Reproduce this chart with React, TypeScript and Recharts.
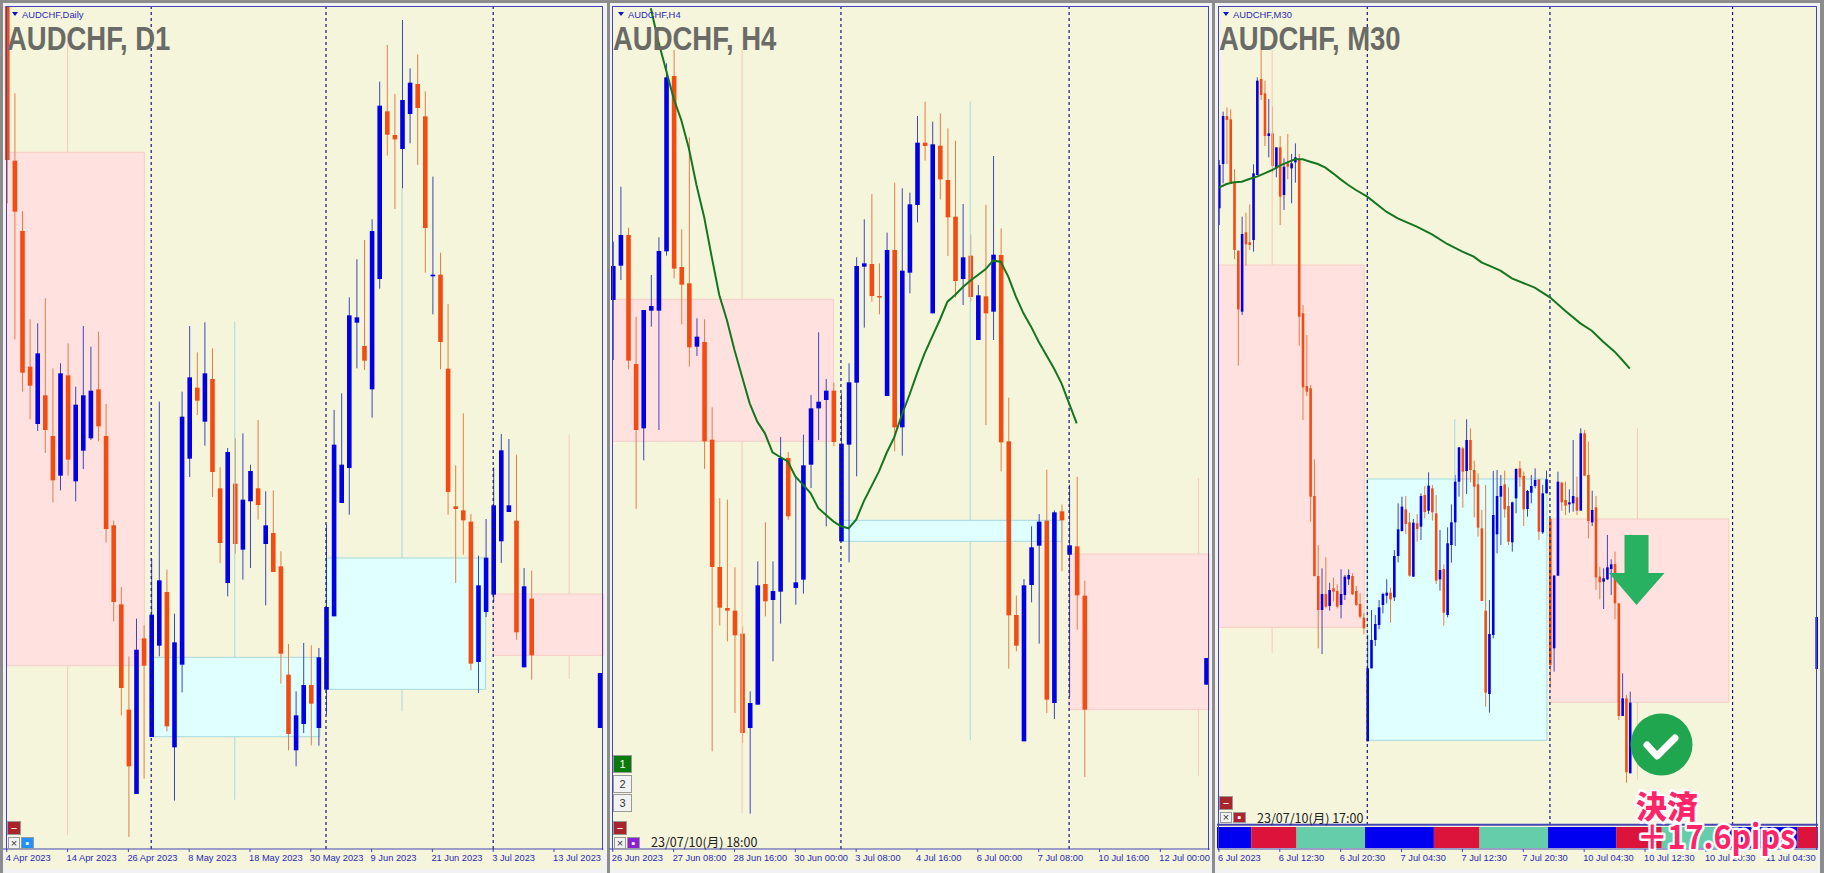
import { Bar, ComposedChart, Line, ReferenceArea, ReferenceLine, XAxis, YAxis } from 'recharts';

// Candles are [open, high, low, close]. The charts show no price scale, so values are plain chart points read off the picture.
const d1Candles = [
  [2602,2602,2010,2140],[2138,2340,1602,1985],[1927,1987,1445,1502],[1520,1662,1362,1463],[1348,1650,1327,1560],
  [1434,1725,1261,1330],[1312,1515,1113,1179],[1193,1530,1149,1500],[1494,1590,1193,1241],[1176,1460,1116,1406],
  [1268,1642,1213,1434],[1305,1580,1300,1448],[1452,1625,1296,1341],[1312,1408,993,1033],[1044,1058,756,814],
  [807,859,474,556],[491,651,109,321],[238,764,238,671],[705,744,284,623],[409,943,409,776],
  [683,1415,651,879],[844,911,426,441],[378,779,218,693],[626,1445,543,1370],[1244,1642,1189,1488],
  [1457,1563,1375,1418],[1355,1653,1283,1500],[1483,1575,1129,1204],[1155,1218,931,991],[871,1276,831,1264],
  [1169,1305,959,988],[971,1320,881,1121],[1116,1226,916,1207],[1155,1360,1061,1105],[988,1146,804,1044],
  [1021,1149,904,904],[921,966,569,659],[596,688,369,418],[369,546,321,474],[448,691,421,565],
  [565,684,384,509],[436,676,383,648],[551,1046,476,799],[771,1390,771,1286],[1111,1440,1111,1226],
  [1216,1728,1076,1674],[1652,1842,1515,1668],[1582,1900,1510,1538],[1452,1962,1367,1927],[1783,2375,1754,2303],
  [2286,2485,2153,2216],[2215,2338,1993,2202],[2173,2560,2055,2320],[2278,2415,2190,2372],[2368,2457,2125,2296],
  [2271,2346,1802,1936],[1791,2090,1677,1796],[1796,1862,1512,1594],[1514,1708,1076,1144],[1101,1224,871,1093],
  [1089,1380,956,1059],[1055,1078,609,629],[634,953,541,864],[784,1063,769,947],[836,1218,814,1104],
  [996,1318,931,1269],[1084,1303,1084,1104],[1058,1256,701,723],[618,916,618,861],[824,908,581,654],
];
const d1EdgeCandle = [436,601,436,601];
const d1TickLabels = ['4 Apr 2023','14 Apr 2023','26 Apr 2023','8 May 2023','18 May 2023','30 May 2023','9 Jun 2023','21 Jun 2023','3 Jul 2023','13 Jul 2023'];
// higher timeframe candles: [first bar, last bar, wick bar, open, high, low, close]
const d1Zones = [[0,18.1,8,2163,2520,114,623],[19,41.2,30,410,1655,221,648],[42,63,52,552,2055,486,946],[64,78.5,74,838,1316,583,654]];
const d1Separators = [19,42,64];

const h4Candles = [
  [1720,1895,1540,1822],[1823,2060,1780,1915],[1915,1937,1512,1538],[1528,1670,1093,1330],[1335,1690,1239,1690],
  [1688,1795,1640,1702],[1688,1908,1330,1867],[1866,2430,1853,2388],[2392,2470,1785,1814],[1819,1932,1647,1766],
  [1770,2208,1520,1578],[1580,1665,1552,1610],[1594,1662,1213,1296],[1301,1398,366,919],[919,1126,743,797],
  [796,1121,696,788],[788,918,481,714],[719,741,391,421],[436,546,179,511],[506,936,506,864],
  [868,1053,771,816],[820,936,636,847],[845,1309,749,1246],[1246,1264,1061,1071],[856,1191,806,873],
  [881,1316,839,1224],[1226,1435,1156,1395],[1395,1623,1300,1415],[1420,1483,1041,1448],[1448,1472,1281,1294],
  [996,1440,996,1289],[1286,1530,933,1473],[1472,1848,1191,1822],[1820,1962,1637,1830],[1828,2038,1715,1732],
  [1732,1830,1677,1729],[1432,1922,1432,1870],[1870,2072,1266,1338],[1338,2055,1253,1808],[1802,2042,1740,2007],
  [2005,2272,1953,2192],[2192,2315,2138,2182],[1680,2255,1680,2187],[2183,2280,2022,2082],[2080,2235,1852,1968],
  [1970,2198,1727,1777],[1783,2008,1705,1848],[1853,1917,1715,1729],[1600,1765,1600,1734],[1731,2005,1345,1680],
  [1685,2152,1600,1856],[1855,1935,1206,1293],[1296,1427,614,774],[775,833,666,683],[396,883,396,864],
  [865,1041,813,978],[983,1078,689,1055],[1058,1211,481,521],[511,1089,463,1083],[1086,1106,906,1059],
  [956,1166,529,984],[981,1189,731,834],[833,878,289,491],
];
const h4EdgeCandle = [566,646,566,646];
const h4TickLabels = ['26 Jun 2023','27 Jun 08:00','28 Jun 16:00','30 Jun 00:00','3 Jul 08:00','4 Jul 16:00','6 Jul 00:00','7 Jul 08:00','10 Jul 16:00','12 Jul 00:00'];
const h4Zones = [[0,29,17,1722,2470,181,1296],[30,59,47,996,2315,399,1059],[60,78.5,77,958,1186,293,491]];
const h4Separators = [30,60];
const h4MaBars = [5,6,7,8,9,10,11,12,13,14,15,16,17,18,19,20,21,22,23,24,25,26,27,28,29,30,31,32,33,34,35,36,37,38,39,40,41,42,43,44,45,46,47,48,49,50,51,52,53,54,55,56,57,58,59,60,61];
const h4MaValues = [2595,2495,2410,2325,2260,2175,2065,1970,1850,1735,1660,1570,1490,1410,1355,1320,1263,1249,1236,1191,1166,1141,1096,1076,1056,1041,1035,1061,1116,1161,1206,1261,1308,1375,1435,1500,1560,1610,1660,1715,1735,1758,1778,1795,1812,1838,1835,1790,1730,1680,1640,1595,1555,1515,1470,1410,1350];

const m30Candles = [
  [1995,2140,1945,2125],[2128,2285,2070,2272],[2272,2298,2128,2260],[2262,2292,2072,2072],[2072,2112,1842,1870],
  [1868,1868,1523,1692],[1685,1970,1675,1918],[1923,1982,1823,1887],[1893,2007,1870,1885],[1900,2127,1865,2100],
  [2095,2388,2095,2378],[2383,2470,2320,2335],[2340,2378,2182,2212],[2212,2323,2148,2220],[2220,2300,2100,2122],
  [2115,2178,2088,2178],[2178,2212,1945,2030],[2035,2145,1990,2120],[2130,2218,2082,2120],[2115,2158,2010,2130],
  [2133,2190,2072,2148],[2143,2158,1583,1670],[1680,1705,1360,1458],[1462,1615,1432,1445],[1455,1465,1055,1130],
  [1132,1242,890,892],[892,985,675,790],[790,915,658,838],[838,948,795,800],[802,872,788,850],
  [855,887,815,845],[847,867,795,800],[805,912,765,838],[835,895,820,890],[882,912,865,895],
  [892,900,835,837],[847,862,802,805],[808,840,765,770],[767,780,717,735],[396,715,396,615],
  [615,790,615,700],[700,775,682,748],[745,820,732,798],[805,842,780,838],[833,882,810,842],
  [842,857,752,822],[828,970,817,952],[952,1110,933,1032],[1027,1130,1025,1100],[1092,1132,1018,1048],
  [1053,1082,890,893],[890,1063,890,1052],[1050,1078,995,1033],[1040,1140,1000,1132],[1135,1162,1065,1084],
  [1088,1203,1078,1163],[1155,1165,1058,1083],[1080,1135,868,878],[882,1030,848,910],[913,927,743,782],
  [775,1038,768,990],[985,1107,932,1053],[1053,1195,982,1175],[1175,1278,1130,1278],[1275,1280,1097,1205],
  [1207,1362,1138,1300],[1300,1335,1173,1210],[1210,1238,1068,1160],[1167,1200,1010,1037],[1035,1090,817,817],
  [788,1165,500,542],[538,820,482,718],[715,1207,705,1075],[1017,1210,960,1132],[1130,1195,985,1162],
  [1167,1208,1067,1092],[1102,1158,985,995],[993,1115,965,1113],[1125,1215,1080,1213],[1215,1237,1160,1188],
  [1192,1205,1042,1092],[1093,1150,1070,1147],[1142,1195,1110,1162],[1162,1215,1155,1180],[1182,1182,1000,1025],
  [1023,1165,1018,1140],[1140,1208,1140,1182],[1063,1065,557,625],[675,895,605,893],[893,1205,893,1175],
  [1172,1175,1088,1113],[1120,1175,1075,1103],[1107,1152,1082,1113],[1110,1300,1085,1132],[1128,1190,1075,1088],
  [1088,1335,1088,1320],[1320,1330,1193,1193],[1195,1295,1005,1057],[1053,1148,1042,1090],[1098,1132,850,888],
  [890,920,822,873],[875,915,793,885],[882,1015,880,918],[913,942,835,927],[928,965,762,810],
  [810,810,460,472],[472,600,472,525],[525,535,272,303],[300,545,300,512],
];
const m30EdgeCandle = [613,769,613,769];
const m30TickLabels = ['6 Jul 2023','6 Jul 12:30','6 Jul 20:30','7 Jul 04:30','7 Jul 12:30','7 Jul 20:30','10 Jul 04:30','10 Jul 12:30','10 Jul 20:30','11 Jul 04:30'];
const m30Zones = [[0,38.2,14,1825,2470,661,738],[39,86.2,62,399,1362,399,1183],[87,134,110,1063,1335,281,513]];
const m30Separators = [39,87,135];
const m30MaBars = [0,2,4,6,8,10,12,14,16,18,20,22,24,26,28,30,32,34,36,39,44,47,52,56,60,64,67,69,71,74,77,83,87,91,95,98,101,104,106,108];
const m30MaValues = [2057,2068,2073,2075,2083,2090,2100,2110,2123,2133,2142,2142,2135,2128,2117,2100,2082,2065,2050,2030,1985,1965,1940,1917,1888,1865,1850,1833,1823,1808,1785,1757,1728,1688,1650,1628,1595,1565,1540,1514];
// session strip under the M30 chart: bar where each colour ends
const m30StripEnds = [-0.5,8.5,20.4,38.4,56.5,68.5,86.5,104.4,116.4,134.3,152.1,157.5];
const stripColors = ['#0000f0','#dc143c','#66cdaa'];

const BAR_SPAN = 8;
const TOP_POINT = 2620;
const BOTTOM_POINT = 73;
const CHART_H = 873;
const AXIS_H = 24;
const FRAME = '#4545b5';
const BEIGE = '#f5f5dc';
const LABEL = '#2a2ab4';

function buildRows(candles, edge, count, maBars = [], maValues = []) {
  return Array.from({ length: count }, (_, i) => {
    const c = candles[i] ?? (i === count - 1 ? edge : null);
    const k = maBars.indexOf(i);
    const ma = k >= 0 ? maValues[k] : null;
    if (!c) return { i, ma };
    return { i, open: c[0], high: c[1], low: c[2], close: c[3], range: [c[2], c[1]], ma };
  });
}

function CandleShape(props) {
  const { x, y, width, height, payload, wickUp, wickDown } = props;
  if (payload.high == null) return null;
  const up = payload.close >= payload.open;
  const span = payload.high - payload.low || 1;
  const at = (v) => y + ((payload.high - v) / span) * height;
  const top = at(Math.max(payload.open, payload.close));
  const bottom = at(Math.min(payload.open, payload.close));
  const cx = x + width / 2;
  return (
    <g>
      <line x1={cx} x2={cx} y1={y} y2={y + height} stroke={up ? wickUp : wickDown} strokeWidth={1} />
      <rect x={x} y={top} width={width} height={Math.max(bottom - top, 1.5)} fill={up ? '#0000e6' : '#f24c12'} />
    </g>
  );
}

// the zone axis runs 0..bars, so bar n has its centre at n + 0.5
const mid = (bar) => bar + 0.5;

function Panel({ left, width, bars, rows, zones, separators, tickLabels, barWidth, floor = BOTTOM_POINT, strip = false }) {
  const ticks = tickLabels.map((_, k) => k * (bars === 158 ? BAR_SPAN * 2 : BAR_SPAN));
  return (
    <div style={{ position: 'absolute', left, top: 0 }}>
      <ComposedChart width={width} height={CHART_H} data={rows} margin={{ top: 0, right: 0, bottom: 0, left: 0 }} barCategoryGap={0}>
        <XAxis
          dataKey="i"
          type="category"
          scale="band"
          ticks={ticks}
          interval={0}
          height={AXIS_H}
          stroke={FRAME}
          tickSize={3}
          tick={({ x, y, payload }) => (
            <text x={x - 1} y={y + 7} fontFamily="Liberation Sans" fontSize={9.3} fill={LABEL}>
              {tickLabels[ticks.indexOf(payload.value)]}
            </text>
          )}
        />
        {/* zones can start between bars, so they sit on their own numeric axis */}
        <XAxis xAxisId="zone" dataKey="i" hide type="number" domain={[0, bars]} allowDataOverflow />
        <YAxis hide type="number" domain={[BOTTOM_POINT, TOP_POINT]} allowDataOverflow />
        {zones.map(([a, b, , open, , , close]) => {
          const bull = close > open;
          return (
            <ReferenceArea key={`z${a}`} xAxisId="zone" x1={mid(a)} x2={mid(b)} y1={Math.min(open, close)} y2={Math.max(open, close)} fill={bull ? '#e0ffff' : '#ffe1e0'} fillOpacity={1} stroke={bull ? '#a6d9e0' : '#f8ccc4'} strokeWidth={1} />
          );
        })}
        {zones.map(([a, , w, open, high, low, close]) => {
          const stroke = close > open ? '#a6d9e0' : '#f6c9b6';
          return [
            <ReferenceLine key={`u${a}`} xAxisId="zone" segment={[{ x: mid(w), y: high }, { x: mid(w), y: Math.max(open, close) }]} stroke={stroke} strokeWidth={1} />,
            <ReferenceLine key={`d${a}`} xAxisId="zone" segment={[{ x: mid(w), y: Math.min(open, close) }, { x: mid(w), y: low }]} stroke={stroke} strokeWidth={1} />,
          ];
        })}
        {separators.map((s) => (
          <ReferenceLine key={`s${s}`} xAxisId="zone" segment={[{ x: mid(s), y: 2602 }, { x: mid(s), y: floor }]} stroke="#14147c" strokeDasharray="3 3" strokeWidth={1.2} />
        ))}
        {strip && m30StripEnds.slice(1).map((end, k) => (
          <ReferenceArea key={`c${k}`} xAxisId="zone" x1={mid(m30StripEnds[k])} x2={mid(end)} y1={76} y2={139} fill={stripColors[k % 3]} fillOpacity={1} stroke="none" />
        ))}
        {strip && <ReferenceLine y={146} stroke={FRAME} strokeWidth={2} />}
        <Bar
          dataKey="range"
          barSize={barWidth}
          isAnimationActive={false}
          shape={(p) => <CandleShape {...p} wickUp="#3b45bd" wickDown="#e57c45" />}
        />
        <Line dataKey="ma" type="linear" dot={false} connectNulls stroke="#14761e" strokeWidth={2} isAnimationActive={false} />
      </ComposedChart>
    </div>
  );
}

const box = (left, top, width, height, background, extra = {}) => (
  <div style={{ position: 'absolute', left, top, width, height, background, ...extra }} />
);

function Btn({ left, top, w, h, bg, color = '#333', text = '' }) {
  return (
    <div
      style={{
        position: 'absolute', left, top, width: w, height: h, background: bg, color, boxSizing: 'border-box',
        border: '1px solid #999', font: '11px "Liberation Sans"', lineHeight: `${h - 2}px`, textAlign: 'center',
      }}
    >
      {text}
    </div>
  );
}

function Heading({ left, frameLeft, small, large }) {
  return (
    <>
      <div style={{ position: 'absolute', left: frameLeft + 5, top: 12, width: 0, height: 0, borderLeft: '3px solid transparent', borderRight: '3px solid transparent', borderTop: '4px solid #1010c0' }} />
      <div style={{ position: 'absolute', left: frameLeft + 15, top: 8.5, font: '9.4px "Liberation Sans"', color: LABEL, whiteSpace: 'nowrap' }}>{small}</div>
      <div style={{ position: 'absolute', left, top: 19.5, font: 'bold 33.5px "Liberation Sans"', color: '#6a6a66', whiteSpace: 'nowrap', transform: 'scaleX(0.82)', transformOrigin: 'left top' }}>{large}</div>
    </>
  );
}

const Stamp = ({ left, top, text }) => (
  <div style={{ position: 'absolute', left, top, font: '12.5px "Noto Sans CJK JP"', color: '#222', whiteSpace: 'nowrap' }}>{text}</div>
);

export default function App() {
  return (
    <div style={{ position: 'absolute', left: 0, top: 0, width: 1824, height: 873, overflow: 'hidden', background: '#f2f2f2' }}>
      {box(0, 0, 1824, 3, '#8c8c8c')}
      {box(0, 0, 3, 873, '#8c8c8c')}
      {box(607, 0, 3, 873, '#8c8c8c')}
      {box(1212, 0, 3, 873, '#8c8c8c')}
      {box(1820, 0, 4, 873, '#8c8c8c')}
      {box(6, 6, 597, 863, BEIGE)}
      {box(612, 6, 597, 863, BEIGE)}
      {box(1218, 6, 599, 863, BEIGE)}

      <Panel left={3.2} width={600.4} bars={79} barWidth={4.6} rows={buildRows(d1Candles, d1EdgeCandle, 79)} zones={d1Zones} separators={d1Separators} tickLabels={d1TickLabels} />
      <Panel left={609} width={600.8} bars={79} barWidth={4.6} rows={buildRows(h4Candles, h4EdgeCandle, 79, h4MaBars, h4MaValues)} zones={h4Zones} separators={h4Separators} tickLabels={h4TickLabels} />
      <Panel left={1216.8} width={601.2} bars={158} barWidth={2.6} rows={buildRows(m30Candles, m30EdgeCandle, 158, m30MaBars, m30MaValues)} zones={m30Zones} separators={m30Separators} tickLabels={m30TickLabels} floor={146} strip />

      {/* window frames */}
      {box(6, 6, 597, 843.5, 'transparent', { border: `1px solid ${FRAME}`, borderBottom: 'none', boxSizing: 'border-box' })}
      {box(612, 6, 597, 843.5, 'transparent', { border: `1px solid ${FRAME}`, borderBottom: 'none', boxSizing: 'border-box' })}
      {box(1218, 6, 599, 843.5, 'transparent', { border: `1px solid ${FRAME}`, borderBottom: 'none', boxSizing: 'border-box' })}

      <Heading left={7} frameLeft={7} small="AUDCHF,Daily" large="AUDCHF, D1" />
      <Heading left={613} frameLeft={613} small="AUDCHF,H4" large="AUDCHF, H4" />
      <Heading left={1219} frameLeft={1218} small="AUDCHF,M30" large="AUDCHF, M30" />

      <Btn left={7} top={821} w={14} h={14} bg="#a8252c" color="#fff" text="−" />
      <Btn left={8} top={837} w={12} h={12} bg="#f2f2f2" text="×" />
      <Btn left={21} top={837} w={13} h={12} bg="#1e90ff" color="#fff" text="▪" />

      <Btn left={613} top={755} w={19} h={18} bg="#0a7a0a" color="#fff" text="1" />
      <Btn left={613} top={775} w={19} h={18} bg="#f2f2f2" text="2" />
      <Btn left={613} top={794} w={19} h={18} bg="#f2f2f2" text="3" />
      <Btn left={613} top={821} w={14} h={14} bg="#a8252c" color="#fff" text="−" />
      <Btn left={614} top={837} w={12} h={12} bg="#f2f2f2" text="×" />
      <Btn left={627} top={837} w={13} h={12} bg="#8a1fd6" color="#fff" text="▪" />
      <Stamp left={651} top={832} text="23/07/10(月) 18:00" />

      <Btn left={1219} top={796} w={14} h={14} bg="#a8252c" color="#fff" text="−" />
      <Btn left={1220} top={812} w={12} h={11} bg="#f2f2f2" text="×" />
      <Btn left={1233} top={812} w={13} h={11} bg="#b02030" color="#fff" text="▪" />
      <Stamp left={1257} top={808} text="23/07/10(月) 17:00" />

      {/* trade annotation pasted over the M30 chart */}
      <svg width={1824} height={873} style={{ position: 'absolute', left: 0, top: 0, pointerEvents: 'none' }}>
        <polygon points="1624.5,535 1648.5,535 1648.5,573 1664.5,573 1636.5,605 1609,573 1624.5,573" fill="#27b160" />
        <circle cx={1661.5} cy={744.5} r={31} fill="#1fa64f" />
        <polyline points="1647,745 1657,756 1675,738" fill="none" stroke="#fff" strokeWidth={7} strokeLinecap="round" strokeLinejoin="round" />
        <text x={1636} y={818} fontFamily="Noto Sans CJK JP" fontWeight={900} fontSize={31} fill="#ff2468" stroke="#fff" strokeWidth={5} paintOrder="stroke" strokeLinejoin="round">決済</text>
        <text x={1637} y={849} fontFamily="Noto Sans CJK JP" fontWeight={700} fontSize={33} textLength={158} lengthAdjust="spacingAndGlyphs" fill="#ff2468" stroke="#fff" strokeWidth={5} paintOrder="stroke" strokeLinejoin="round">＋17.6pips</text>
      </svg>
    </div>
  );
}
